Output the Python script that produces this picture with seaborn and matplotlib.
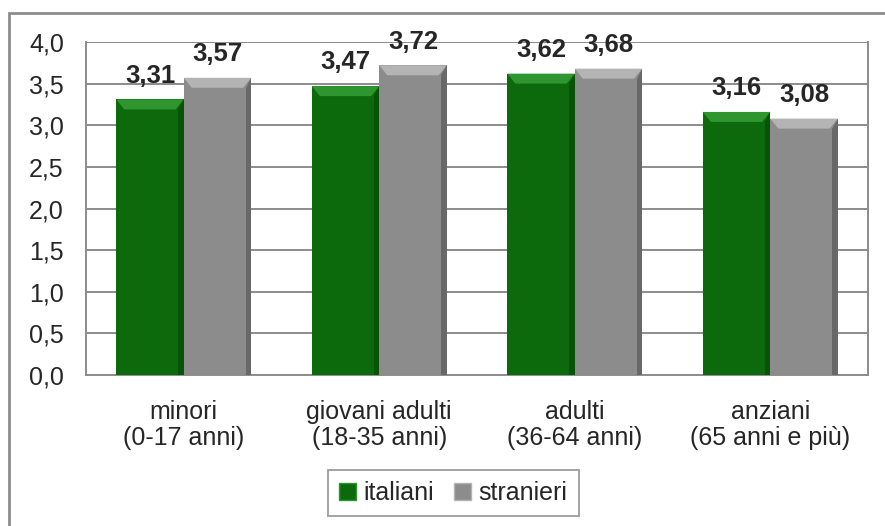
import numpy as np
import pandas as pd
import matplotlib.pyplot as plt
import matplotlib.patches as mpatches
import seaborn as sns

categorie = ["minori\n(0-17 anni)", "giovani adulti\n(18-35 anni)",
             "adulti\n(36-64 anni)", "anziani\n(65 anni e più)"]
italiani = [3.31, 3.47, 3.62, 3.16]
stranieri = [3.57, 3.72, 3.68, 3.08]
gruppi = ["italiani", "stranieri"]

colori = {"italiani": "#0c6a0c", "stranieri": "#8c8c8c"}
chiari = {"italiani": "#2f962f", "stranieri": "#b4b4b4"}
scuri = {"italiani": "#064406", "stranieri": "#505050"}

df = pd.DataFrame({
    "Categoria": categorie * 2,
    "Valore": italiani + stranieri,
    "Gruppo": ["italiani"] * 4 + ["stranieri"] * 4,
})

sns.set_style("white")
plt.rcParams["font.family"] = ["Liberation Sans", "DejaVu Sans"]

fig = plt.figure(figsize=(8.85, 5.26), dpi=100)
ax = fig.add_axes([86 / 885, 1 - 375 / 526, (868 - 86) / 885, (375 - 42) / 526])

sns.barplot(data=df, x="Categoria", y="Valore", hue="Gruppo", hue_order=gruppi,
            palette=colori, width=0.69, gap=0, saturation=1, ax=ax, legend=False,
            errorbar=None, linewidth=0, zorder=3)

# effetto bisello sulle barre
ordine = [g for g in gruppi for _ in categorie]
for patch, gruppo, val in zip(ax.patches, ordine, italiani + stranieri):
    x0 = patch.get_x()
    w = patch.get_width()
    h = patch.get_height()
    b = 0.12
    dx = w * 0.12
    top = mpatches.Polygon([[x0, h], [x0 + w, h], [x0 + w - dx, h - b], [x0 + dx, h - b]],
                           closed=True, facecolor=chiari[gruppo], edgecolor="none", zorder=4)
    ax.add_patch(top)
    dest = mpatches.Polygon([[x0 + w, h], [x0 + w, 0], [x0 + w - dx * 0.7, 0],
                             [x0 + w - dx * 0.7, h - b]],
                            closed=True, facecolor=scuri[gruppo], edgecolor="none",
                            alpha=0.6, zorder=4)
    ax.add_patch(dest)
    ax.text(x0 + w / 2, h + 0.2, f"{val:.2f}".replace(".", ","),
            ha="center", va="baseline", fontsize=18.5, fontweight="bold", zorder=5)

ax.set_ylim(0, 4)
ax.set_xlim(-0.5, 3.5)
yt = np.arange(0, 4.01, 0.5)
ax.set_yticks(yt)
ax.set_yticklabels([f"{v:.1f}".replace(".", ",") for v in yt], fontsize=18)
ax.set_xticks(range(4))
ax.set_xticklabels(categorie, fontsize=18, linespacing=1.12)
ax.set_xticks(np.arange(-0.5, 3.6, 1), minor=True)
ax.tick_params(axis="x", which="major", length=0, pad=18)
ax.tick_params(axis="x", which="minor", length=6, width=1.3, color="#888888", direction="out")
ax.tick_params(axis="y", length=6, width=1.3, color="#888888", direction="out", pad=10)
ax.set_xlabel("")
ax.set_ylabel("")

ax.grid(axis="y", color="#8c8c8c", linewidth=1.4, zorder=0)
ax.set_axisbelow(True)
for lato in ["left", "bottom", "right"]:
    ax.spines[lato].set_visible(True)
    ax.spines[lato].set_color("#8c8c8c")
    ax.spines[lato].set_linewidth(1.4)
ax.spines["top"].set_visible(False)

# riquadro esterno del grafico
cornice = mpatches.Rectangle((9 / 885, -0.2), 1.2, 1.2 - 13 / 526,
                             transform=fig.transFigure, fill=False,
                             edgecolor="#8c8c8c", linewidth=2, clip_on=False)
fig.patches.append(cornice)

handles = [mpatches.Patch(facecolor=colori[g], edgecolor=chiari[g], label=g) for g in gruppi]
leg = fig.legend(handles=handles, loc="center", bbox_to_anchor=(453 / 885, 1 - 493 / 526),
                 ncol=2, fontsize=18, frameon=True, fancybox=False,
                 handlelength=0.68, handleheight=0.68, handletextpad=0.3,
                 columnspacing=0.8, borderpad=0.45)
leg.get_frame().set_edgecolor("#8c8c8c")
leg.get_frame().set_linewidth(1.4)

fig.savefig("out.png", dpi=100)
